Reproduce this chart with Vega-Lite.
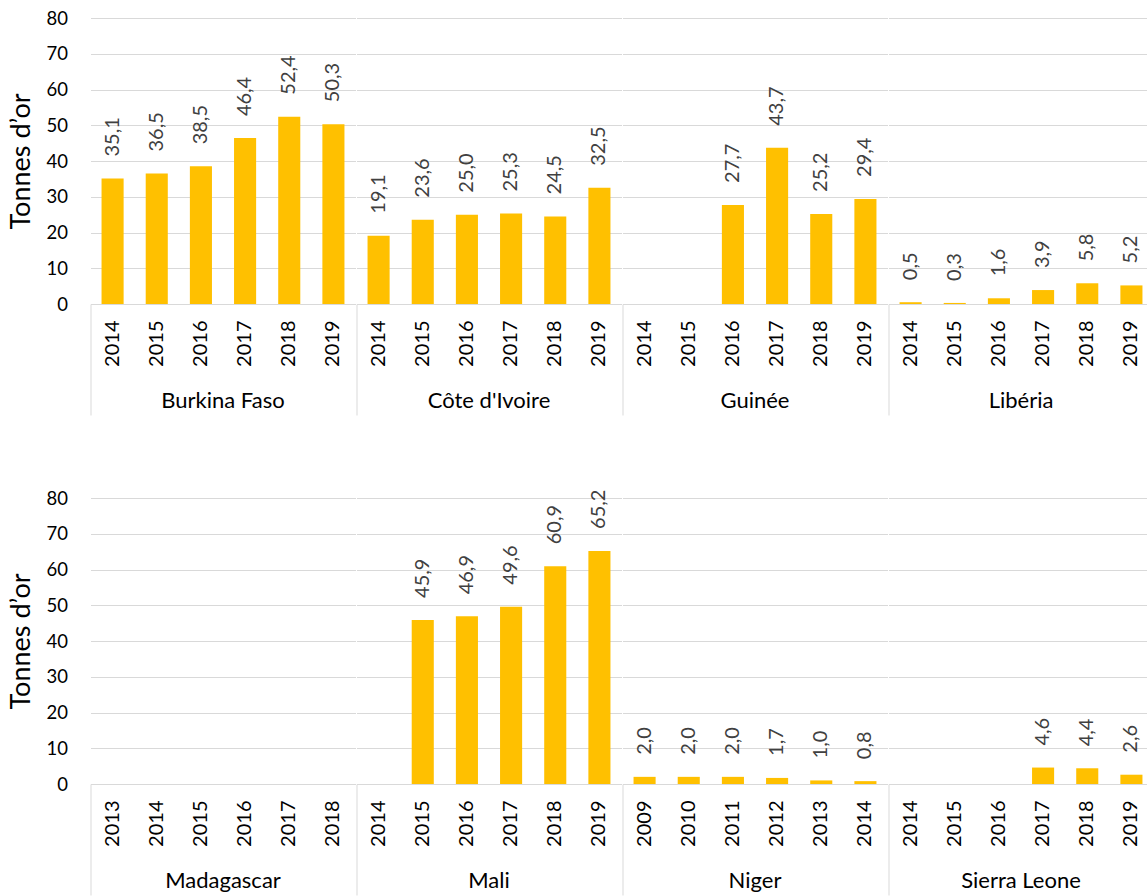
{
  "$schema": "https://vega.github.io/schema/vega-lite/v6.json",
  "padding": {"left": 6.5, "top": 9, "right": 0, "bottom": 0},
  "data": {"values": [
    {"country": "Burkina Faso", "year": "2014", "tonnes": 35.1},
    {"country": "Burkina Faso", "year": "2015", "tonnes": 36.5},
    {"country": "Burkina Faso", "year": "2016", "tonnes": 38.5},
    {"country": "Burkina Faso", "year": "2017", "tonnes": 46.4},
    {"country": "Burkina Faso", "year": "2018", "tonnes": 52.4},
    {"country": "Burkina Faso", "year": "2019", "tonnes": 50.3},
    {"country": "Côte d'Ivoire", "year": "2014", "tonnes": 19.1},
    {"country": "Côte d'Ivoire", "year": "2015", "tonnes": 23.6},
    {"country": "Côte d'Ivoire", "year": "2016", "tonnes": 25.0},
    {"country": "Côte d'Ivoire", "year": "2017", "tonnes": 25.3},
    {"country": "Côte d'Ivoire", "year": "2018", "tonnes": 24.5},
    {"country": "Côte d'Ivoire", "year": "2019", "tonnes": 32.5},
    {"country": "Guinée", "year": "2014", "tonnes": null},
    {"country": "Guinée", "year": "2015", "tonnes": null},
    {"country": "Guinée", "year": "2016", "tonnes": 27.7},
    {"country": "Guinée", "year": "2017", "tonnes": 43.7},
    {"country": "Guinée", "year": "2018", "tonnes": 25.2},
    {"country": "Guinée", "year": "2019", "tonnes": 29.4},
    {"country": "Libéria", "year": "2014", "tonnes": 0.5},
    {"country": "Libéria", "year": "2015", "tonnes": 0.3},
    {"country": "Libéria", "year": "2016", "tonnes": 1.6},
    {"country": "Libéria", "year": "2017", "tonnes": 3.9},
    {"country": "Libéria", "year": "2018", "tonnes": 5.8},
    {"country": "Libéria", "year": "2019", "tonnes": 5.2},
    {"country": "Madagascar", "year": "2013", "tonnes": null},
    {"country": "Madagascar", "year": "2014", "tonnes": null},
    {"country": "Madagascar", "year": "2015", "tonnes": null},
    {"country": "Madagascar", "year": "2016", "tonnes": null},
    {"country": "Madagascar", "year": "2017", "tonnes": null},
    {"country": "Madagascar", "year": "2018", "tonnes": null},
    {"country": "Mali", "year": "2014", "tonnes": null},
    {"country": "Mali", "year": "2015", "tonnes": 45.9},
    {"country": "Mali", "year": "2016", "tonnes": 46.9},
    {"country": "Mali", "year": "2017", "tonnes": 49.6},
    {"country": "Mali", "year": "2018", "tonnes": 60.9},
    {"country": "Mali", "year": "2019", "tonnes": 65.2},
    {"country": "Niger", "year": "2009", "tonnes": 2.0},
    {"country": "Niger", "year": "2010", "tonnes": 2.0},
    {"country": "Niger", "year": "2011", "tonnes": 2.0},
    {"country": "Niger", "year": "2012", "tonnes": 1.7},
    {"country": "Niger", "year": "2013", "tonnes": 1.0},
    {"country": "Niger", "year": "2014", "tonnes": 0.8},
    {"country": "Sierra Leone", "year": "2014", "tonnes": null},
    {"country": "Sierra Leone", "year": "2015", "tonnes": null},
    {"country": "Sierra Leone", "year": "2016", "tonnes": null},
    {"country": "Sierra Leone", "year": "2017", "tonnes": 4.6},
    {"country": "Sierra Leone", "year": "2018", "tonnes": 4.4},
    {"country": "Sierra Leone", "year": "2019", "tonnes": 2.6}
  ]},
  "spacing": 73,
  "vconcat": [
    {
      "transform": [{"filter": {"field": "country", "oneOf": ["Burkina Faso", "Côte d'Ivoire", "Guinée", "Libéria"]}}],
      "facet": {"column": {"field": "country", "title": null, "sort": ["Burkina Faso", "Côte d'Ivoire", "Guinée", "Libéria"],
        "header": {"labelOrient": "bottom", "labelFont": "Lato", "labelFontSize": 22, "labelColor": "black", "labelPadding": -25}}},
      "spacing": 0,
      "resolve": {"scale": {"x": "independent"}},
      "spec": {
        "width": 265, "height": 286,
        "encoding": {
          "x": {"field": "year", "type": "ordinal", "scale": {"paddingInner": 0.5, "paddingOuter": 0.25},
            "axis": {"title": null, "labelAngle": -90, "labelFont": "Lato", "labelFontSize": 20, "labelColor": "black", "grid": false,
              "domainColor": "#D9D9D9", "domainWidth": 1, "ticks": true, "tickSize": 111, "tickColor": "#D9D9D9", "tickWidth": 1,
              "tickOpacity": {"condition": {"test": "datum.index == 0", "value": 1}, "value": 0},
              "bandPosition": -0.5, "labelPadding": -95}},
          "y": {"field": "tonnes", "type": "quantitative", "scale": {"domain": [0, 80]},
            "axis": {"title": "Tonnes d’or", "tickCount": 8, "grid": true, "gridColor": "#D9D9D9", "domain": false, "ticks": false, "tickSize": 0,
              "labelPadding": 22, "labelFont": "Lato", "labelFontSize": 18.5, "labelColor": "black",
              "titleFont": "Lato", "titleFontSize": 27, "titleFontWeight": "normal", "titleColor": "black", "titlePadding": 11}}
        },
        "layer": [
          {"mark": {"type": "bar", "color": "#FFC000"}},
          {"mark": {"type": "text", "angle": 270, "align": "left", "baseline": "middle", "dx": 22, "font": "Lato", "fontSize": 20, "color": "#404040"},
           "encoding": {"text": {"field": "tonnes", "type": "quantitative", "format": ".1f"}}}
        ]
      }
    },
    {
      "transform": [{"filter": {"field": "country", "oneOf": ["Madagascar", "Mali", "Niger", "Sierra Leone"]}}],
      "facet": {"column": {"field": "country", "title": null, "sort": ["Madagascar", "Mali", "Niger", "Sierra Leone"],
        "header": {"labelOrient": "bottom", "labelFont": "Lato", "labelFontSize": 22, "labelColor": "black", "labelPadding": -25}}},
      "spacing": 0,
      "resolve": {"scale": {"x": "independent"}},
      "spec": {
        "width": 265, "height": 286,
        "encoding": {
          "x": {"field": "year", "type": "ordinal", "scale": {"paddingInner": 0.5, "paddingOuter": 0.25},
            "axis": {"title": null, "labelAngle": -90, "labelFont": "Lato", "labelFontSize": 20, "labelColor": "black", "grid": false,
              "domainColor": "#D9D9D9", "domainWidth": 1, "ticks": true, "tickSize": 111, "tickColor": "#D9D9D9", "tickWidth": 1,
              "tickOpacity": {"condition": {"test": "datum.index == 0", "value": 1}, "value": 0},
              "bandPosition": -0.5, "labelPadding": -95}},
          "y": {"field": "tonnes", "type": "quantitative", "scale": {"domain": [0, 80]},
            "axis": {"title": "Tonnes d’or", "tickCount": 8, "grid": true, "gridColor": "#D9D9D9", "domain": false, "ticks": false, "tickSize": 0,
              "labelPadding": 22, "labelFont": "Lato", "labelFontSize": 18.5, "labelColor": "black",
              "titleFont": "Lato", "titleFontSize": 27, "titleFontWeight": "normal", "titleColor": "black", "titlePadding": 11}}
        },
        "layer": [
          {"mark": {"type": "bar", "color": "#FFC000"}},
          {"mark": {"type": "text", "angle": 270, "align": "left", "baseline": "middle", "dx": 22, "font": "Lato", "fontSize": 20, "color": "#404040"},
           "encoding": {"text": {"field": "tonnes", "type": "quantitative", "format": ".1f"}}}
        ]
      }
    }
  ],
  "config": {
    "view": {"stroke": null},
    "font": "Lato",
    "mark": {"invalid": "break-paths-show-domains"},
    "locale": {"number": {"decimal": ",", "thousands": " ", "grouping": [3], "currency": ["", " €"]}}
  }
}
